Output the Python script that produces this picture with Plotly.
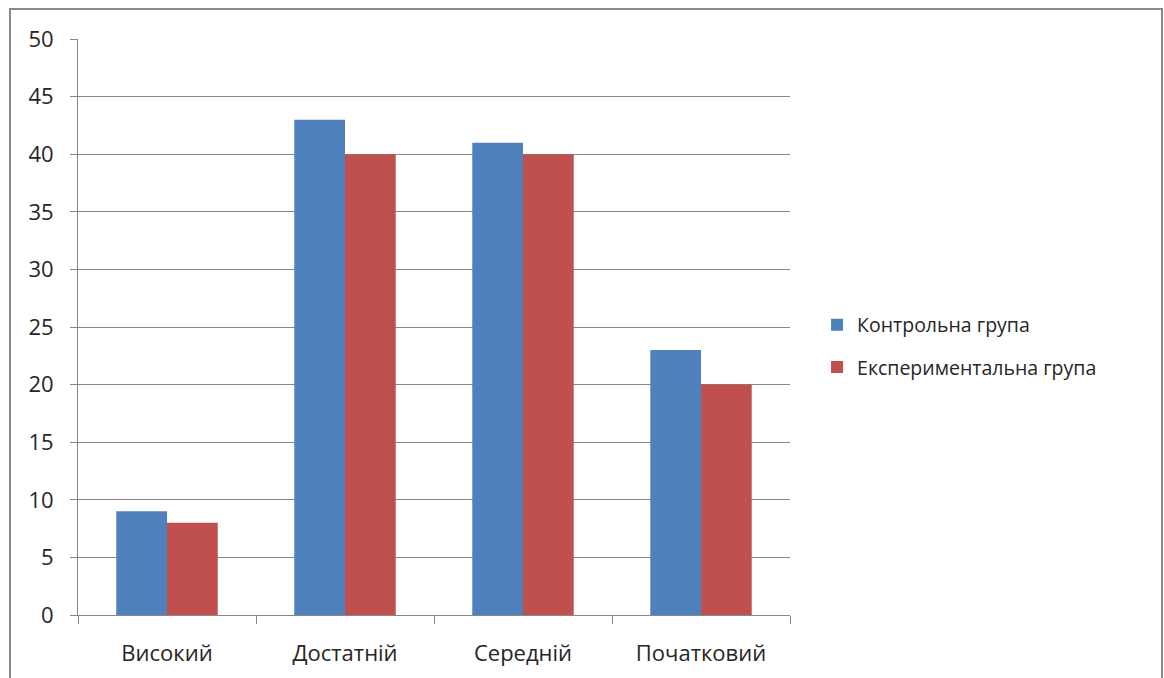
import plotly.graph_objects as go

categories = ["Високий", "Достатній", "Середній", "Початковий"]
control = [9, 43, 41, 23]
experimental = [8, 40, 40, 20]
series_names = ["Контрольна група", "Експериментальна група"]
y_ticks = [0, 5, 10, 15, 20, 25, 30, 35, 40, 45, 50]

FONT = "Open Sans, Liberation Sans, Arial, sans-serif"
AXIS = "#878787"

fig = go.Figure()
fig.add_trace(go.Bar(x=categories, y=control, name=series_names[0],
                     marker=dict(color="#4F81BD", line=dict(width=0)),
                     legendgroup="a"))
fig.add_trace(go.Bar(x=categories, y=experimental, name=series_names[1],
                     marker=dict(color="#C0504D", line=dict(width=0)),
                     legendgroup="b"))

fig.update_layout(
    width=1164, height=678,
    margin=dict(l=78, r=374, t=39, b=63),
    paper_bgcolor="white", plot_bgcolor="white",
    barmode="group", bargap=0.43, bargroupgap=0,
    font=dict(family=FONT, size=19, color="#262626"),
    legend=dict(x=1.038, y=0.467, xanchor="left", yanchor="middle",
                font=dict(size=19.5), traceorder="grouped", tracegroupgap=14,
                itemwidth=30),
    showlegend=True,
)
fig.update_xaxes(
    showline=True, linecolor=AXIS, linewidth=1,
    ticks="outside", tickson="boundaries", ticklen=8, tickcolor=AXIS,
    showgrid=False, tickfont=dict(size=22), ticklabelstandoff=19,
)
fig.update_yaxes(
    range=[0, 50], tickvals=y_ticks, showline=True, linecolor=AXIS, linewidth=1,
    ticks="outside", ticklen=7, tickcolor=AXIS,
    showgrid=True, gridcolor=AXIS, gridwidth=1, zeroline=False,
    tickfont=dict(size=22), ticklabelstandoff=12,
)

# outer chart frame
fig.add_shape(type="rect", xref="paper", yref="paper",
              x0=(10 - 78) / 712, x1=(1162 - 78) / 712,
              y0=-0.2, y1=(615 - 9) / 576,
              line=dict(color="#8a8a8a", width=2), layer="below")

fig.write_html("out.html")
